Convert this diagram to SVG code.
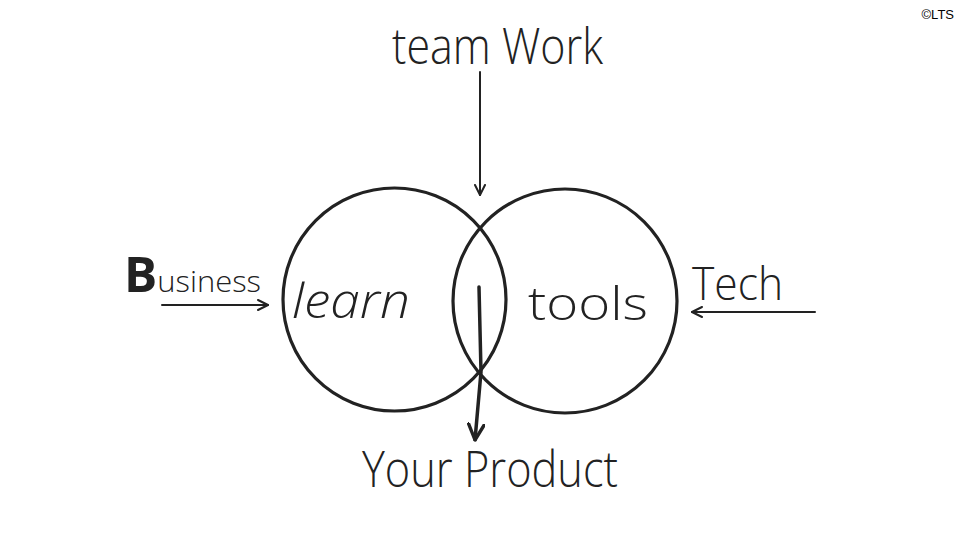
<svg xmlns="http://www.w3.org/2000/svg" width="960" height="540" viewBox="0 0 960 540">
  <defs>
    <marker id="arr" viewBox="0 0 12 12" refX="11" refY="6" markerWidth="12" markerHeight="12" markerUnits="userSpaceOnUse" orient="auto">
      <path d="M1,1 L11,6 L1,11" fill="none" stroke="#222" stroke-width="2" stroke-linecap="round" stroke-linejoin="round"/>
    </marker>
    <marker id="arrBig" viewBox="0 0 16 16" refX="15" refY="8" markerWidth="18" markerHeight="18" markerUnits="userSpaceOnUse" orient="auto">
      <path d="M1,1 L15,8 L1,15" fill="none" stroke="#222" stroke-width="3" stroke-linecap="round" stroke-linejoin="round"/>
    </marker>
  </defs>
  <style>
    .ring { fill: none; stroke: #222; stroke-width: 3.2; }
    .hand { font-family: "Open Sans", "Liberation Sans", sans-serif; font-weight: 300; fill: #222; }
    .cur { font-family: "Open Sans", "Liberation Sans", sans-serif; font-weight: 300; font-style: italic; fill: #222; }
    .conn { stroke: #222; fill: none; stroke-linecap: round; }
    .copy { font-family: "Liberation Sans", sans-serif; font-size: 13px; fill: #000; }
  </style>
  <rect width="960" height="540" fill="#fff"/>

  <g id="learn">
    <circle class="ring" cx="394.5" cy="299.5" r="111.5"/>
    <text class="cur" x="292" y="318" font-size="48" textLength="118" lengthAdjust="spacingAndGlyphs">learn</text>
  </g>
  <g id="tools">
    <circle class="ring" cx="565" cy="301" r="112"/>
    <text class="hand" x="528" y="320" font-size="46" textLength="120" lengthAdjust="spacingAndGlyphs">tools</text>
  </g>
  <g id="team-work">
    <text class="hand" x="392" y="64" font-size="50" textLength="211" lengthAdjust="spacingAndGlyphs">team Work</text>
  </g>
  <g id="business">
    <text class="hand" x="124" y="292" font-size="48" textLength="137" lengthAdjust="spacingAndGlyphs"><tspan font-weight="700">B</tspan><tspan font-size="30">usiness</tspan></text>
  </g>
  <g id="tech">
    <text class="hand" x="692" y="300" font-size="46" textLength="91" lengthAdjust="spacingAndGlyphs">Tech</text>
  </g>
  <g id="your-product">
    <text class="hand" x="362" y="487" font-size="50" textLength="256" lengthAdjust="spacingAndGlyphs">Your Product</text>
  </g>

  <g id="connectors">
    <line class="conn" x1="480" y1="72" x2="480" y2="195" stroke-width="2" marker-end="url(#arr)"/>
    <line class="conn" x1="162" y1="305" x2="268" y2="305" stroke-width="2" marker-end="url(#arr)"/>
    <line class="conn" x1="815" y1="312" x2="692" y2="312" stroke-width="2" marker-end="url(#arr)"/>
    <path class="conn" d="M479,287 L481,372 L475,440" stroke-width="3.5" marker-end="url(#arrBig)"/>
  </g>

  <text class="copy" x="954" y="19" text-anchor="end">©LTS</text>
</svg>
